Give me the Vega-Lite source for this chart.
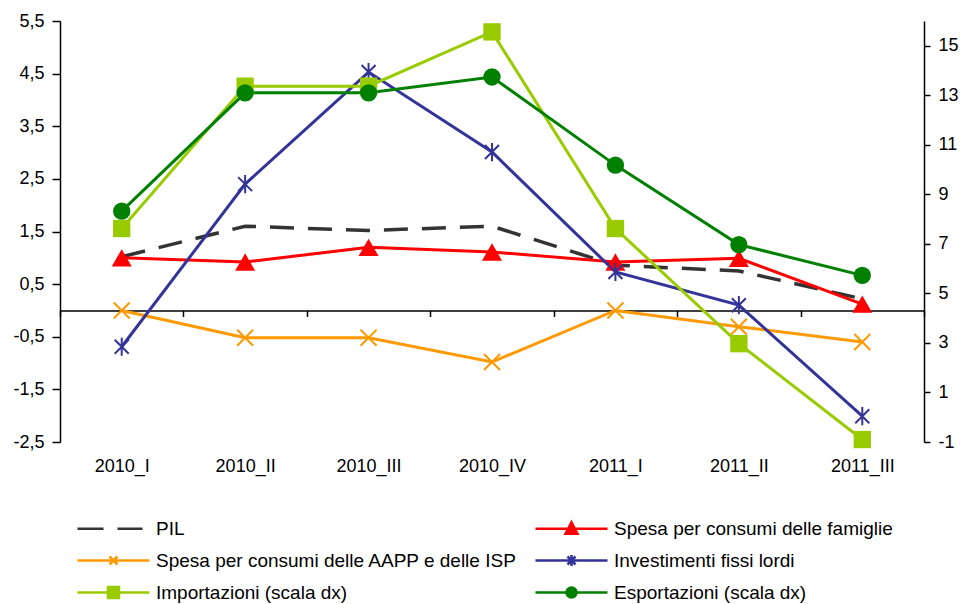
{
  "$schema": "https://vega.github.io/schema/vega-lite/v6.json",
  "width": 864,
  "height": 421,
  "autosize": "none",
  "padding": {"left": 60, "top": 21, "right": 36, "bottom": 162},
  "background": "#ffffff",
  "config": {
    "locale": {"number": {"decimal": ",", "thousands": ".", "grouping": [3], "currency": ["", " €"], "minus": "-"}},
    "font": "Liberation Sans",
    "view": {"stroke": null},
    "axis": {"labelFont": "Liberation Sans", "labelFontSize": 18, "labelColor": "#000000", "domainColor": "#000000", "tickColor": "#000000", "grid": false, "title": null, "domainWidth": 1.5, "tickWidth": 1.5},
    "legend": {"labelFont": "Liberation Sans", "labelFontSize": 19, "labelColor": "#000000", "symbolOpacity": 1, "symbolStrokeWidth": 2.5, "symbolSize": 400, "labelLimit": 600}
  },
  "datasets": {
    "d": [
      {"period": "2010_I", "series": "PIL", "value": 1.02},
      {"period": "2010_II", "series": "PIL", "value": 1.6},
      {"period": "2010_III", "series": "PIL", "value": 1.52},
      {"period": "2010_IV", "series": "PIL", "value": 1.6},
      {"period": "2011_I", "series": "PIL", "value": 0.86},
      {"period": "2011_II", "series": "PIL", "value": 0.75},
      {"period": "2011_III", "series": "PIL", "value": 0.22},
      {"period": "2010_I", "series": "Spesa per consumi delle famiglie", "value": 1.0},
      {"period": "2010_II", "series": "Spesa per consumi delle famiglie", "value": 0.92},
      {"period": "2010_III", "series": "Spesa per consumi delle famiglie", "value": 1.2},
      {"period": "2010_IV", "series": "Spesa per consumi delle famiglie", "value": 1.11},
      {"period": "2011_I", "series": "Spesa per consumi delle famiglie", "value": 0.92},
      {"period": "2011_II", "series": "Spesa per consumi delle famiglie", "value": 0.99},
      {"period": "2011_III", "series": "Spesa per consumi delle famiglie", "value": 0.12},
      {"period": "2010_I", "series": "Spesa per consumi delle AAPP e delle ISP", "value": 0.0},
      {"period": "2010_II", "series": "Spesa per consumi delle AAPP e delle ISP", "value": -0.52},
      {"period": "2010_III", "series": "Spesa per consumi delle AAPP e delle ISP", "value": -0.52},
      {"period": "2010_IV", "series": "Spesa per consumi delle AAPP e delle ISP", "value": -0.98},
      {"period": "2011_I", "series": "Spesa per consumi delle AAPP e delle ISP", "value": 0.0},
      {"period": "2011_II", "series": "Spesa per consumi delle AAPP e delle ISP", "value": -0.31},
      {"period": "2011_III", "series": "Spesa per consumi delle AAPP e delle ISP", "value": -0.6},
      {"period": "2010_I", "series": "Investimenti fissi lordi", "value": -0.69},
      {"period": "2010_II", "series": "Investimenti fissi lordi", "value": 2.4},
      {"period": "2010_III", "series": "Investimenti fissi lordi", "value": 4.53},
      {"period": "2010_IV", "series": "Investimenti fissi lordi", "value": 3.01},
      {"period": "2011_I", "series": "Investimenti fissi lordi", "value": 0.73},
      {"period": "2011_II", "series": "Investimenti fissi lordi", "value": 0.1},
      {"period": "2011_III", "series": "Investimenti fissi lordi", "value": -2.01},
      {"period": "2010_I", "series": "Importazioni (scala dx)", "value": 7.62},
      {"period": "2010_II", "series": "Importazioni (scala dx)", "value": 13.37},
      {"period": "2010_III", "series": "Importazioni (scala dx)", "value": 13.37},
      {"period": "2010_IV", "series": "Importazioni (scala dx)", "value": 15.56},
      {"period": "2011_I", "series": "Importazioni (scala dx)", "value": 7.62},
      {"period": "2011_II", "series": "Importazioni (scala dx)", "value": 2.97},
      {"period": "2011_III", "series": "Importazioni (scala dx)", "value": -0.9},
      {"period": "2010_I", "series": "Esportazioni (scala dx)", "value": 8.32},
      {"period": "2010_II", "series": "Esportazioni (scala dx)", "value": 13.1},
      {"period": "2010_III", "series": "Esportazioni (scala dx)", "value": 13.1},
      {"period": "2010_IV", "series": "Esportazioni (scala dx)", "value": 13.74},
      {"period": "2011_I", "series": "Esportazioni (scala dx)", "value": 10.18},
      {"period": "2011_II", "series": "Esportazioni (scala dx)", "value": 6.97},
      {"period": "2011_III", "series": "Esportazioni (scala dx)", "value": 5.73}
    ]
  },
  "data": {"name": "d"},
  "encoding": {
    "x": {
      "field": "period",
      "type": "ordinal",
      "bandPosition": 0.5,
      "scale": {"type": "band", "domain": ["2010_I", "2010_II", "2010_III", "2010_IV", "2011_I", "2011_II", "2011_III"], "paddingInner": 0, "paddingOuter": 0},
      "axis": {"title": null, "labelAngle": 0, "offset": -131.5, "tickBand": "extent", "tickSize": 6, "labelPadding": 141, "domain": true}
    }
  },
  "layer": [
    {
      "encoding": {
        "y": {
          "field": "value",
          "type": "quantitative",
          "scale": {"domain": [-2.5, 5.5], "nice": false, "zero": false},
          "axis": {"orient": "left", "values": [-2.5, -1.5, -0.5, 0.5, 1.5, 2.5, 3.5, 4.5, 5.5], "format": ".1f", "tickSize": 8, "labelPadding": 8, "title": null}
        }
      },
      "layer": [
        {
          "transform": [{"filter": "datum.series === 'PIL'"}],
          "mark": {"type": "line", "color": "#333333", "strokeWidth": 3.5, "strokeDash": [24, 14]},
          "encoding": {}
        },
        {
          "transform": [{"filter": "datum.series === 'Spesa per consumi delle famiglie' || datum.series === 'Spesa per consumi delle AAPP e delle ISP' || datum.series === 'Investimenti fissi lordi'"}],
          "mark": {"type": "line", "strokeWidth": 3},
          "encoding": {
            "color": {
              "field": "series",
              "type": "nominal",
              "legend": null,
              "scale": {
                "domain": ["Spesa per consumi delle famiglie", "Spesa per consumi delle AAPP e delle ISP", "Investimenti fissi lordi", "Importazioni (scala dx)", "Esportazioni (scala dx)"],
                "range": ["#FF0000", "#FF9900", "#333399", "#99CC00", "#008000"]
              }
            }
          }
        },
        {
          "transform": [{"filter": "datum.series === 'Spesa per consumi delle famiglie'"}],
          "mark": {"type": "point", "shape": "triangle-up", "filled": true, "size": 400, "color": "#FF0000", "opacity": 1}
        },
        {
          "transform": [{"filter": "datum.series === 'Spesa per consumi delle AAPP e delle ISP'"}],
          "mark": {"type": "point", "shape": "M-1,-1L1,1M-1,1L1,-1", "filled": false, "size": 256, "strokeWidth": 2, "color": "#FF9900", "opacity": 1}
        },
        {
          "transform": [{"filter": "datum.series === 'Investimenti fissi lordi'"}],
          "mark": {"type": "point", "shape": "M-1,-1L1,1M-1,1L1,-1M0,-1.3L0,1.3", "filled": false, "size": 196, "strokeWidth": 2, "color": "#333399", "opacity": 1}
        },
        {
          "transform": [{"filter": "datum.series !== 'Importazioni (scala dx)' && datum.series !== 'Esportazioni (scala dx)'"}],
          "mark": {"type": "point", "filled": true, "opacity": 0},
          "encoding": {
            "fill": {
              "field": "series",
              "type": "nominal",
              "scale": {
                "domain": ["PIL", "Spesa per consumi delle AAPP e delle ISP", "Importazioni (scala dx)", "Spesa per consumi delle famiglie", "Investimenti fissi lordi", "Esportazioni (scala dx)"],
                "range": ["#333333", "#FF9900", "#99CC00", "#FF0000", "#333399", "#008000"]
              },
              "legend": {"title": null, "orient": "none", "legendX": 16, "legendY": 496, "columns": 2, "columnPadding": 12, "rowPadding": 10, "labelOffset": 57}
            },
            "stroke": {
              "field": "series",
              "type": "nominal",
              "scale": {
                "domain": ["PIL", "Spesa per consumi delle AAPP e delle ISP", "Importazioni (scala dx)", "Spesa per consumi delle famiglie", "Investimenti fissi lordi", "Esportazioni (scala dx)"],
                "range": ["#333333", "#FF9900", "#99CC00", "#FF0000", "#333399", "#008000"]
              },
              "legend": {"title": null, "orient": "none", "legendX": 16, "legendY": 496, "columns": 2, "columnPadding": 12, "rowPadding": 10, "labelOffset": 57}
            },
            "shape": {
              "field": "series",
              "type": "nominal",
              "scale": {
                "domain": ["PIL", "Spesa per consumi delle AAPP e delle ISP", "Importazioni (scala dx)", "Spesa per consumi delle famiglie", "Investimenti fissi lordi", "Esportazioni (scala dx)"],
                "range": [
                  "M-1,0L1.6,0M3,0L5.5,0",
                  "M-1,0L6.2,0M2.2,-0.4L3,0.4M2.2,0.4L3,-0.4",
                  "M-1,0L6.2,0M2.05,-0.55L3.15,-0.55L3.15,0.55L2.05,0.55Z",
                  "M-1,0L6.2,0M2.6,-0.65L3.2,0.5L2,0.5Z",
                  "M-1,0L6.2,0M2.2,-0.4L3,0.4M2.2,0.4L3,-0.4M2.6,-0.55L2.6,0.55",
                  "M-1,0L6.2,0M2.1,0A0.5,0.5,0,1,0,3.1,0A0.5,0.5,0,1,0,2.1,0Z"
                ]
              },
              "legend": {"title": null, "orient": "none", "legendX": 16, "legendY": 496, "columns": 2, "columnPadding": 12, "rowPadding": 10, "labelOffset": 57}
            }
          }
        }
      ]
    },
    {
      "encoding": {
        "y": {
          "field": "value",
          "type": "quantitative",
          "scale": {"domain": [-1, 16], "nice": false, "zero": false},
          "axis": {"orient": "right", "values": [-1, 1, 3, 5, 7, 9, 11, 13, 15], "format": "d", "tickSize": 6, "labelPadding": 8, "title": null}
        }
      },
      "layer": [
        {
          "transform": [{"filter": "datum.series === 'Importazioni (scala dx)' || datum.series === 'Esportazioni (scala dx)'"}],
          "mark": {"type": "line", "strokeWidth": 3},
          "encoding": {
            "color": {"field": "series", "type": "nominal", "legend": null}
          }
        },
        {
          "transform": [{"filter": "datum.series === 'Importazioni (scala dx)'"}],
          "mark": {"type": "point", "shape": "square", "filled": true, "size": 300, "color": "#99CC00", "opacity": 1}
        },
        {
          "transform": [{"filter": "datum.series === 'Esportazioni (scala dx)'"}],
          "mark": {"type": "point", "shape": "circle", "filled": true, "size": 300, "color": "#008000", "opacity": 1}
        }
      ]
    }
  ],
  "resolve": {"scale": {"y": "independent"}}
}
